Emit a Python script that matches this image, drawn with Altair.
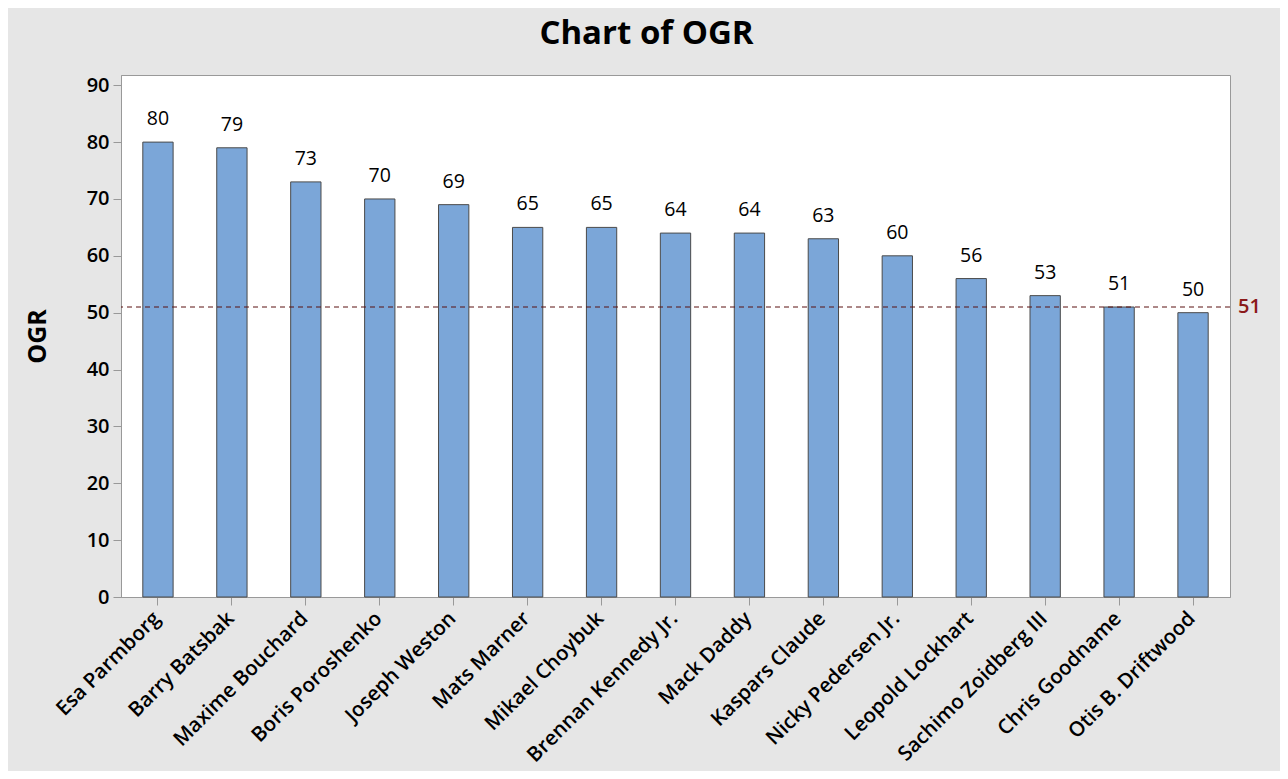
import altair as alt
import pandas as pd

names = ["Esa Parmborg", "Barry Batsbak", "Maxime Bouchard", "Boris Poroshenko",
         "Joseph Weston", "Mats Marner", "Mikael Choybuk", "Brennan Kennedy Jr.",
         "Mack Daddy", "Kaspars Claude", "Nicky Pedersen Jr.", "Leopold Lockhart",
         "Sachimo Zoidberg III", "Chris Goodname", "Otis B. Driftwood"]
ogr = [80, 79, 73, 70, 69, 65, 65, 64, 64, 63, 60, 56, 53, 51, 50]
ref_value = [51]
y_ticks = [0, 10, 20, 30, 40, 50, 60, 70, 80, 90]
y_domain = [0, 91.8]

df = pd.DataFrame({"name": names, "OGR": ogr})
ref = pd.DataFrame({"ref": ref_value, "label": [str(v) for v in ref_value]})

W, H = 1109, 522
FONT = "Open Sans"

xenc = alt.X("name:N", sort=names,
             scale=alt.Scale(paddingInner=0.59, paddingOuter=0.295),
             axis=alt.Axis(title=None, labelAngle=-45, labelFontSize=20.5,
                           labelFont=FONT, labelFontWeight=600, labelColor="black",
                           labelPadding=3, labelLimit=0, labelOffset=-8,
                           tickSize=8, tickColor="#999999", domainColor="#999999"))
yscale = alt.Scale(domain=y_domain, nice=False)
yenc = alt.Y("OGR:Q", scale=yscale,
             axis=alt.Axis(title="OGR", values=y_ticks, grid=False,
                           labelFontSize=20, labelFont=FONT, labelFontWeight=600,
                           labelColor="black", labelPadding=4, tickSize=8,
                           tickColor="#999999", domainColor="#999999",
                           titleFontSize=25, titleFont=FONT, titleFontWeight="bold",
                           titleColor="black", titlePadding=36))

bars = alt.Chart(df).mark_bar(color="#7BA6D8", stroke="#4a4a4a", strokeWidth=1).encode(
    x=xenc, y=yenc)

labels = alt.Chart(df).mark_text(dy=-23, fontSize=19.5, font=FONT, color="black").encode(
    x=alt.X("name:N", sort=names), y=alt.Y("OGR:Q", scale=yscale), text="OGR:Q")

rule = alt.Chart(ref).mark_rule(color="#5a1010", strokeDash=[5, 4], strokeWidth=1).encode(
    y=alt.Y("ref:Q", scale=yscale))

ref_label = alt.Chart(ref).mark_text(align="left", baseline="middle", fontSize=20,
                                     font=FONT, fontWeight=600, color="#8B1A1A", dx=8).encode(
    x=alt.value(W), y=alt.Y("ref:Q", scale=yscale), text="label:N")

chart = alt.layer(bars, labels, rule, ref_label).properties(
    width=W, height=H,
    background="#e6e6e6",
    autosize=alt.AutoSizeParams(type="none"),
    padding={"left": 113, "top": 67, "right": 50, "bottom": 174},
    title=alt.TitleParams("Chart of OGR", fontSize=33, font=FONT, fontWeight="bold",
                          color="black", anchor="middle", dx=-29, offset=24),
).configure_view(stroke="#999999", fill="white")

chart.save("out.html", embed_options={"renderer": "svg", "actions": False})
